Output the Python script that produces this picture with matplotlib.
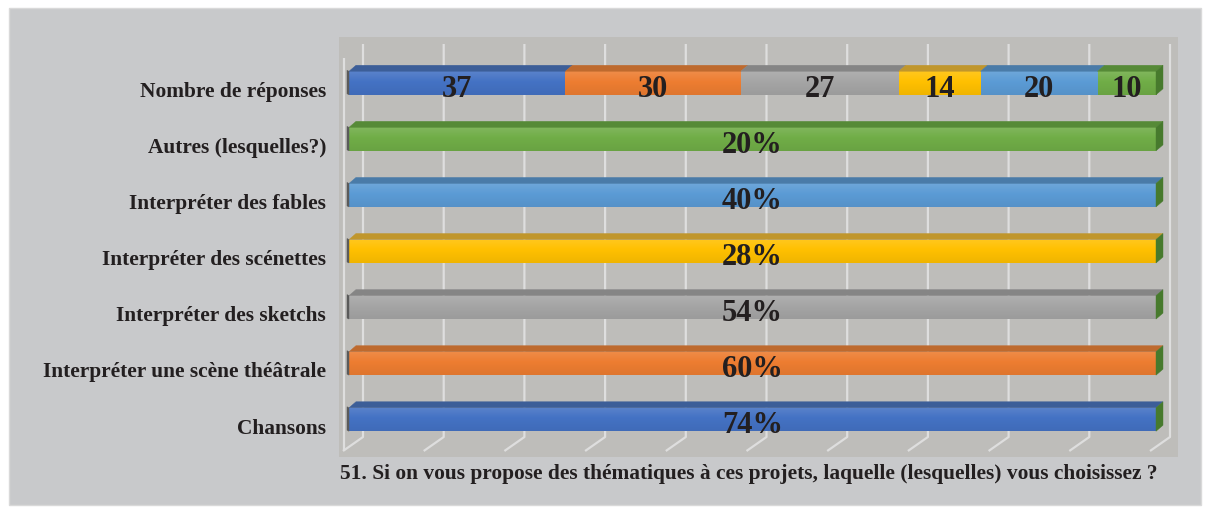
import numpy as np
import matplotlib
matplotlib.use("Agg")
import matplotlib.pyplot as plt
from matplotlib.patches import Polygon, Rectangle
from matplotlib.lines import Line2D
from matplotlib.transforms import IdentityTransform, ScaledTranslation
from matplotlib.colors import to_rgb

# ---- data -------------------------------------------------------------
categories = [
    "Chansons",
    "Interpréter une scène théâtrale",
    "Interpréter des sketchs",
    "Interpréter des scénettes",
    "Interpréter des fables",
    "Autres (lesquelles?)",
    "Nombre de réponses",
]
percent_labels = ["74%", "60%", "54%", "28%", "40%", "20%"]
counts = [37, 30, 27, 14, 20, 10]
title = ("51. Si on vous propose des thématiques à ces projets, "
         "laquelle (lesquelles) vous choisissez ?")

front_colors = ["#4472C4", "#ED7D31", "#A5A5A5", "#FFC000", "#5B9BD5", "#70AD47"]
top_colors = ["#3C5E98", "#BE6A2E", "#858585", "#C0962C", "#4A7BA8", "#568A37"]
side_color = "#477A2D"
left_color = "#5A5A5A"
text_color = "#231F20"

# ---- figure -----------------------------------------------------------
W, H = 1208, 510
fig = plt.figure(figsize=(W / 100, H / 100), dpi=100)
fig.patch.set_facecolor("white")

# outer panel
fig.add_artist(Rectangle((9 / W, 4 / H), (1201 - 9) / W, (501 - 4) / H,
                         transform=fig.transFigure, facecolor="#C8C9CB",
                         edgecolor="#D9D9D9", linewidth=1.0, zorder=0))

px0, px1, py0, py1 = 339, 1178, 38, 458
ax = fig.add_axes([px0 / W, (H - py1) / H, (px1 - px0) / W, (py1 - py0) / H])
ax.set_facecolor("#BEBDBA")
for s in ax.spines.values():
    s.set_visible(False)
ax.set_xticks([])
ax.set_yticks([])

row_step = 56.08
bar_h = 23.5 / row_step
xlim = (-10 / 8.07, 100 + 22 / 8.07)
ylim = (-37.5 / row_step, -37.5 / row_step + (py1 - py0) / row_step)

y_pos = np.arange(len(categories))
n_pct = len(percent_labels)

# segment extents: one full bar per answer, stacked counts on the top row
total = sum(counts)
lefts = [0.0] * n_pct
widths = [100.0] * n_pct
cum = np.concatenate([[0], np.cumsum(counts)]) / total * 100
seg_left = cum[:-1]
seg_width = np.diff(cum)

bars_pct = ax.barh(y_pos[:n_pct], widths, left=lefts, height=bar_h,
                   color=front_colors, linewidth=0, zorder=5)
bars_cnt = ax.barh([y_pos[-1]] * len(counts), seg_width, left=seg_left,
                   height=bar_h, color=front_colors, linewidth=0, zorder=5)

ax.set_xlim(*xlim)
ax.set_ylim(*ylim)
fig.canvas.draw()


def shade(c, f):
    r, g, b = to_rgb(c)
    if f >= 0:
        return (r + (1 - r) * f, g + (1 - g) * f, b + (1 - b) * f)
    return (r * (1 + f), g * (1 + f), b * (1 + f))


# vertical gradient on the front faces
for bar, col in list(zip(bars_pct, front_colors)) + list(zip(bars_cnt, front_colors)):
    x0, y0 = bar.get_x(), bar.get_y()
    w, h = bar.get_width(), bar.get_height()
    t = np.linspace(0, 1, 64)[:, None]
    top = np.array(shade(col, 0.12))
    mid = np.array(to_rgb(col))
    bot = np.array(shade(col, -0.06))
    grad = np.where(t < 0.45, top + (mid - top) * (t / 0.45),
                    mid + (bot - mid) * ((t - 0.45) / 0.55))
    img = grad[:, None, :]
    im = ax.imshow(img, extent=[x0, x0 + w, y0, y0 + h], origin="upper",
                   aspect="auto", zorder=6, interpolation="bilinear")
    im.set_clip_path(bar)
ax.set_xlim(*xlim)
ax.set_ylim(*ylim)
fig.canvas.draw()

to_disp = ax.transData.transform
ident = IdentityTransform()


def poly(pts, color, z):
    ax.add_artist(Polygon(pts, closed=True, transform=ident, facecolor=color,
                          edgecolor=color, linewidth=0.3, zorder=z,
                          clip_on=False))


def line(xs, ys, color, lw, z):
    ax.add_artist(Line2D(xs, ys, transform=ident, color=color, lw=lw,
                         zorder=z, clip_on=False, solid_capstyle="butt"))


# back wall gridlines and floor
ax_bottom = to_disp((0, ylim[0]))[1]
ax_top = to_disp((0, ylim[1]))[1]
back_top = ax_top - (45 - py0)
back_bot = ax_bottom + (py1 - 438)
front_bot = ax_bottom + (py1 - 452)
grid_col = "#DEDEDE"
for gx in np.arange(0, 101, 10):
    xd = to_disp((gx, 0))[0]
    line([xd + 14, xd + 14, xd - 6], [back_top, back_bot, front_bot],
         grid_col, 1.6, 2)
x0d = to_disp((0, 0))[0]
line([x0d - 5, x0d - 5], [ax_top - (59 - py0), front_bot], grid_col, 1.6, 2)

# 3D faces of the bars
DX, DY = 7, 6
for bar, col, tcol in (list(zip(bars_pct, front_colors, top_colors))
                       + list(zip(bars_cnt, front_colors, top_colors))):
    x0, y0 = bar.get_x(), bar.get_y()
    x1, y1 = x0 + bar.get_width(), y0 + bar.get_height()
    (ax0, ay0), (ax1, ay1) = to_disp((x0, y0)), to_disp((x1, y1))
    poly([(ax0, ay1), (ax1, ay1), (ax1 + DX, ay1 + DY), (ax0 + DX, ay1 + DY)],
         tcol, 7)

for bar in list(bars_pct) + [bars_cnt[0]]:
    x0, y0 = bar.get_x(), bar.get_y()
    y1 = y0 + bar.get_height()
    (ax0, ay0), (_, ay1) = to_disp((x0, y0)), to_disp((x0, y1))
    poly([(ax0 - 2, ay0 + 1), (ax0, ay0), (ax0, ay1), (ax0 - 2, ay1 + 1)],
         left_color, 7)

for bar in list(bars_pct) + [bars_cnt[-1]]:
    x1 = bar.get_x() + bar.get_width()
    y0 = bar.get_y()
    y1 = y0 + bar.get_height()
    (bx, by0), (_, by1) = to_disp((x1, y0)), to_disp((x1, y1))
    poly([(bx, by0), (bx + DX, by0 + DY), (bx + DX, by1 + DY), (bx, by1)],
         side_color, 7)

# value labels (baseline a little below the bar centre)
lab_tr = ax.transData + ScaledTranslation(0, -12.5 / 100, fig.dpi_scale_trans)
lab_font = dict(family="Liberation Serif", fontweight="bold", fontsize=22,
                color=text_color, ha="center", va="baseline", zorder=10,
                transform=lab_tr)
for yi, lab in zip(y_pos[:n_pct], percent_labels):
    ax.text(50, yi, lab, **lab_font)
for l, w, c in zip(seg_left, seg_width, counts):
    ax.text(l + w / 2, y_pos[-1], str(c), **lab_font)

# category labels
for yi, cat in zip(y_pos, categories):
    yd = to_disp((0, yi))[1] - 13
    fig.text(326 / W, yd / H, cat, family="Liberation Serif",
             fontweight="bold", fontsize=15.4, color=text_color,
             ha="right", va="baseline")

# axis title
fig.text(340 / W, (H - 479) / H, title, family="Liberation Serif",
         fontweight="bold", fontsize=15.4, color=text_color,
         ha="left", va="baseline")

fig.savefig("out.png", dpi=100, facecolor=fig.get_facecolor())
